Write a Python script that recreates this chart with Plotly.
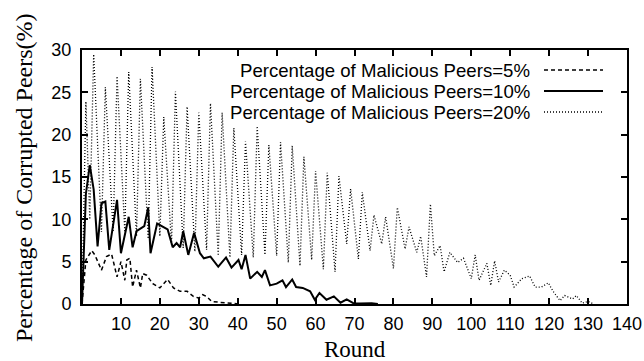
import plotly.graph_objects as go

# ---- data ----
rounds_5 = [0, 1, 2.5, 3.3, 5, 6.3, 7.6, 9, 10, 11, 11.5, 12.3, 13, 14, 15, 15.6, 16.6, 18.2, 20, 22,
            23.5, 25.2, 27, 28.6, 30, 31, 32, 33.3, 35.4, 37.2, 39.3, 40.6]
pct_5 = [0, 5.2, 6.3, 5.8, 4.0, 5.6, 5.9, 3.2, 5.0, 2.8, 5.2, 5.4, 2.0, 4.0, 1.9, 3.6, 3.4, 2.4, 1.9, 2.9,
         1.9, 1.5, 1.5, 0.9, 0.7, 1.1, 0.9, 0.3, 0.2, 0.1, 0.05, 0]

rounds_10 = [0, 1, 2, 3, 4, 5, 6, 7, 9, 10, 12, 13, 14, 16, 17, 17.6, 19.3, 20.5, 22, 23.3, 24.3, 25.2,
             26, 27.3, 28.8, 30.3, 31.3, 33, 35, 37, 38.4, 40.2, 41, 42, 43.2, 45, 46.2, 47, 48.3, 50,
             51.5, 52.4, 54, 55, 56.7, 58.6, 59.8, 61, 62.8, 64.7, 66.4, 68, 69.7, 71.4, 74.4, 76]
pct_10 = [0, 13, 16.4, 13.5, 6.8, 11.9, 12.1, 6.4, 12.3, 6.0, 10.3, 6.7, 8.6, 9.2, 11.4, 6.0, 9.5, 9.2,
          8.8, 6.7, 7.2, 6.7, 8.6, 5.8, 8.4, 6.0, 5.4, 5.6, 4.4, 5.5, 4.3, 5.2, 4.1, 5.8, 3.0, 3.8, 3.2,
          4.0, 2.2, 2.4, 2.8, 2.0, 2.9, 2.0, 1.9, 1.5, 0.5, 1.3, 0.5, 0.9, 0.15, 0.55, 0.1, 0.05, 0.1, 0]

rounds_20 = [0, 1, 2, 3, 5, 6, 8, 9, 11, 12, 14, 15, 17, 18, 20, 21, 23, 24, 26, 27, 29, 30, 32, 33,
             35, 36, 38, 39, 41, 42, 44, 45, 47, 48, 50, 51, 53, 54, 56, 57, 59, 60, 62, 63, 65, 66,
             68, 69, 71, 72, 74, 75, 77, 78, 80, 81, 83, 84, 86, 87, 88.5, 89.5, 90.5, 92, 93, 94.5,
             96.5, 98, 100, 101, 102, 104, 105, 106, 107, 108.5, 110, 111, 113, 115, 116.4, 118,
             119.8, 121, 122.8, 124, 126, 127, 128.5, 130, 131.5]
pct_20 = [0, 23.9, 10, 29.5, 8.5, 25.6, 8.5, 26.9, 8.5, 27.4, 8.0, 26.6, 7.7, 28.0, 8.0, 22.1, 7.0, 25.1,
          6.6, 23.3, 6.2, 22.6, 6.4, 23.7, 5.7, 22.6, 5.5, 20.8, 5.8, 19.2, 5.5, 21.0, 5.8, 18.8, 5.7,
          19.1, 4.9, 18.7, 4.5, 17.4, 5.2, 15.7, 4.1, 15.5, 3.8, 15.1, 7.1, 13.6, 5.3, 13.2, 6.3, 10.5,
          7.1, 10.3, 4.2, 11.4, 6.5, 9.1, 6.1, 8.0, 3.2, 11.8, 5.7, 6.9, 3.8, 6.1, 4.9, 5.4, 3.0, 5.8,
          2.8, 4.8, 2.2, 5.1, 2.6, 4.0, 3.4, 2.0, 3.0, 3.3, 2.0, 2.0, 2.5, 1.5, 0.4, 1.0, 0.6, 1.0,
          0.1, 0.3, 0]

legend_labels = ["Percentage of Malicious Peers=5%",
                 "Percentage of Malicious Peers=10%",
                 "Percentage of Malicious Peers=20%"]
x_title = "Round"
y_title = "Percentage of Corrupted Peers(%)"
x_ticks = list(range(10, 141, 10))
y_ticks = list(range(0, 31, 5))

# ---- figure ----
W, H = 644, 361
ML, MR, MT, MB = 82, 17, 50, 57
PW, PH = W - ML - MR, H - MT - MB

styles = [dict(color="black", width=1.5, dash="4px,3px"),
          dict(color="black", width=2, dash="solid"),
          dict(color="black", width=1.3, dash="1px,2px")]

SANS = "Liberation Sans, Arial, sans-serif"
SERIF = "Liberation Serif, Times New Roman, serif"

fig = go.Figure()
for xs, ys, st, name in zip([rounds_5, rounds_10, rounds_20], [pct_5, pct_10, pct_20], styles, legend_labels):
    fig.add_trace(go.Scatter(x=xs, y=ys, mode="lines", line=st, name=name, showlegend=False))


def px_x(p):
    return (p - ML) / PW


def px_y(p):
    return (H - MB - p) / PH


# gnuplot-style legend: text right-aligned, sample to the right
for i, (name, st) in enumerate(zip(legend_labels, styles)):
    yy = px_y(70 + 21 * i)
    fig.add_annotation(x=px_x(532), y=yy, xref="paper", yref="paper", text=name, showarrow=False,
                       xanchor="right", yanchor="middle",
                       font=dict(family=SANS, size=18.6, color="black"))
    fig.add_shape(type="line", xref="paper", yref="paper", x0=px_x(544), x1=px_x(603), y0=yy, y1=yy,
                  line=st)

# axis titles
fig.add_annotation(x=0.5, y=px_y(349), xref="paper", yref="paper", text=x_title, showarrow=False,
                   xanchor="center", yanchor="middle", font=dict(family=SERIF, size=23, color="black"))
fig.add_annotation(x=px_x(24), y=px_y(178), xref="paper", yref="paper", text=y_title, showarrow=False,
                   textangle=-90, xanchor="center", yanchor="middle",
                   font=dict(family=SERIF, size=24, color="black"))

axis_common = dict(showgrid=False, zeroline=False, showline=True, linecolor="black", linewidth=2,
                   mirror="ticks", ticks="inside", ticklen=6, tickwidth=1.5, tickcolor="black",
                   automargin=False,
                   tickfont=dict(family=SANS, size=18, color="black"))

fig.update_layout(
    width=W, height=H, margin=dict(l=ML, r=MR, t=MT, b=MB),
    paper_bgcolor="white", plot_bgcolor="white",
    xaxis=dict(range=[0, 140], tickvals=x_ticks, ticktext=[str(v) for v in x_ticks],
               ticklabelstandoff=2, **axis_common),
    yaxis=dict(range=[0, 30], tickvals=y_ticks, ticktext=[str(v) for v in y_ticks],
               ticklabelstandoff=5, **axis_common),
)

fig.write_html("out.html")
